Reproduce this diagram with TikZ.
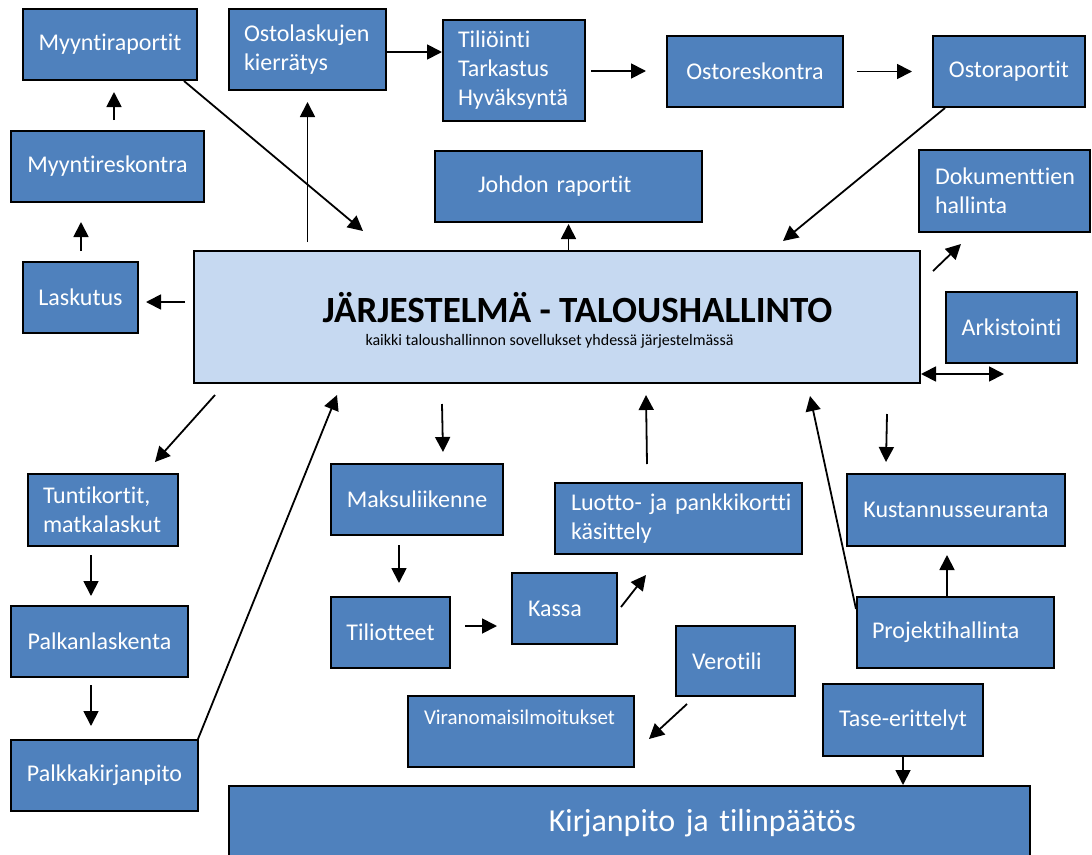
\documentclass[tikz,border=0pt]{standalone}
\usepackage{fontspec}
\setmainfont{Carlito}[Ligatures=NoCommon]
\usetikzlibrary{arrows.meta}
\definecolor{boxblue}{HTML}{4F81BD}
\definecolor{sysblue}{HTML}{C6D9F1}
\hyphenpenalty=10000
\begin{document}
\begin{tikzpicture}[x=1pt,y=-1pt,
    >={Triangle[length=15pt,width=15pt]},
    box/.style={draw=black,line width=2pt,fill=boxblue,text=white,
      font=\fontsize{24}{29}\selectfont,inner sep=0pt,minimum height=71pt},
    lbox/.style={box,align=left},
    arr/.style={line width=1.8pt,->},
    dblarr/.style={line width=1.8pt,<->}]
\useasboundingbox (0,0) rectangle (1092,854);
% top row
\node[box,minimum width=174pt] (mraportit) at (110,44.5) {Myyntiraportit};
\node[lbox,minimum height=81pt,text width=127pt,inner xsep=15pt] (okierto) at (307.5,49.5) {Ostolaskujen\\kierrätys};
\node[lbox,minimum height=101pt,text width=112pt,inner xsep=15pt] (tilioin) at (514,70.5) {Tiliöinti\\Tarkastus\\Hyväksyntä};
\node[box,minimum width=176pt] (oreskontra) at (755,71.5) {Ostoreskontra};
\node[box,minimum width=152pt] (oraportit) at (1009,71.5) {Ostoraportit};
\node[box,minimum width=193pt] (mreskontra) at (107.5,166.5) {Myyntireskontra};
\node[lbox,text width=181pt,inner xsep=43pt] (johdon) at (568.5,186.5) {Johdon raportit};
\node[lbox,minimum height=82pt,text width=139pt,inner xsep=16pt] (dokum) at (1004.5,191) {Dokumenttien\\hallinta};
\node[box,minimum width=115pt] (laskutus) at (80.5,297.5) {Laskutus};
\node[box,minimum width=131pt] (arkist) at (1011.5,327.5) {Arkistointi};
% main system
\node[draw=black,line width=2pt,fill=sysblue,inner sep=0pt,minimum width=726pt,minimum height=132pt] (sys) at (557,317) {};
\node[anchor=base,font=\fontsize{37}{44}\selectfont\bfseries] (systitle) at (577.5,322) {JÄRJESTELMÄ - TALOUSHALLINTO};
\node[anchor=base,font=\fontsize{16}{19}\selectfont] (syssub) at (549.5,345) {kaikki taloushallinnon sovellukset yhdessä järjestelmässä};
% lower part
\node[lbox,minimum height=72pt,text width=120pt,inner xsep=15pt] (tunti) at (103,510) {Tuntikortit,\\matkalaskut};
\node[box,minimum width=172pt] (maksu) at (417,499.5) {Maksuliikenne};
\node[lbox,text width=215pt,inner xsep=16pt] (luotto) at (678.5,518.5) {\mbox{Luotto- ja pankkikortti}\\käsittely};
\node[box,minimum width=218pt,minimum height=72pt] (kustan) at (956,510) {Kustannusseuranta};
\node[box,minimum width=177pt] (palkan) at (99.5,641.5) {Palkanlaskenta};
\node[box,minimum width=119pt] (tiliot) at (390.5,632.5) {Tiliotteet};
\node[lbox,text width=73pt,inner xsep=16pt] (kassa) at (564.5,608.5) {Kassa};
\node[lbox,minimum height=70pt,text width=87pt,inner xsep=16pt] (verotili) at (735.5,661) {Verotili};
\node[lbox,text width=167pt,inner xsep=15pt] (projekti) at (955.5,632.5) {Projektihallinta};
\node[lbox,font=\fontsize{21}{25}\selectfont,text width=194pt,inner xsep=16pt,text height=15pt,text depth=28.6pt] (virano) at (521,731.5) {Viranomaisilmoitukset};
\node[box,minimum width=160pt,minimum height=72pt] (tase) at (903,720) {Tase-erittelyt};
\node[box,minimum width=187pt] (palkka) at (104.5,775.5) {Palkkakirjanpito};
\node[box,font=\fontsize{32}{38}\selectfont,align=right,minimum height=74pt,text width=453pt,inner xsep=174pt] (kirjan) at (629.5,823) {Kirjanpito ja tilinpäätös};
% arrows
\draw[arr] ([shift={(6.5,-10)}]mreskontra.north) -- ([shift={(4,11)}]mraportit.south);
\draw[arr] ([shift={(0.5,-10)}]laskutus.north) -- ([shift={(-26.5,19)}]mreskontra.south);
\draw[arr] ([shift={(-8,-15)}]sys.west) -- ([shift={(7,4.5)}]laskutus.east);
\draw[arr] ([shift={(-249.5,-8)}]sys.north) -- ([shift={(0,11)}]okierto.south);
\draw[arr] ([shift={(-14,0)}]mraportit.south east) -- ([shift={(170,-19)}]sys.north west);
\draw[arr] ([shift={(0,2.5)}]okierto.east) -- ([shift={(0,-18.5)}]tilioin.west);
\draw[arr] ([shift={(5,0.5)}]tilioin.east) -- ([shift={(-20,-0.5)}]oreskontra.west);
\draw[arr] ([shift={(13,0)}]oreskontra.east) -- ([shift={(-20,0)}]oraportit.west);
\draw[arr] ([shift={(13,0)}]oraportit.south west) -- ([shift={(-138,-9)}]sys.north east);
\draw[arr] ([shift={(11.5,0)}]sys.north) -- ([shift={(0,1)}]johdon.south);
\draw[arr] ([shift={(12,21)}]sys.north east) -- ([shift={(43,11)}]dokum.south west);
\draw[dblarr] ([shift={(0,-10)}]sys.south east) -- ([shift={(-7.5,10)}]arkist.south);
\draw[arr] ([shift={(22,11)}]sys.south west) -- ([shift={(52,-11)}]tunti.north);
\draw[arr] ([shift={(-1,0)}]palkka.north east) -- ([shift={(144,11)}]sys.south west);
\draw[arr] ([shift={(249,20)}]sys.south west) -- ([shift={(26,-11)}]maksu.north);
\draw[arr] ([shift={(-31.5,-18)}]luotto.north) -- ([shift={(453,11)}]sys.south west);
\draw[arr] ([shift={(0,13)}]projekti.north west) -- ([shift={(-111,12)}]sys.south east);
\draw[arr] ([shift={(-34,30)}]sys.south east) -- ([shift={(-70,-11)}]kustan.north);
\draw[arr] ([shift={(-8.5,0)}]projekti.north) -- ([shift={(-9,8)}]kustan.south);
\draw[arr] ([shift={(-12,8)}]tunti.south) -- ([shift={(-8.5,-9)}]palkan.north);
\draw[arr] ([shift={(-8.5,7)}]palkan.south) -- ([shift={(-13.5,-13)}]palkka.north);
\draw[arr] ([shift={(-18,9)}]maksu.south) -- ([shift={(8.5,-13)}]tiliot.north);
\draw[arr] ([shift={(14,-6.5)}]tiliot.east) -- ([shift={(-14,17.5)}]kassa.west);
\draw[arr] ([shift={(3,-1.5)}]kassa.east) -- ([shift={(92,20)}]luotto.south west);
\draw[arr] ([shift={(12,7)}]verotili.south west) -- ([shift={(14,7.5)}]virano.east);
\draw[arr] (tase.south) -- (tase.south |- kirjan.north);
\end{tikzpicture}
\end{document}
